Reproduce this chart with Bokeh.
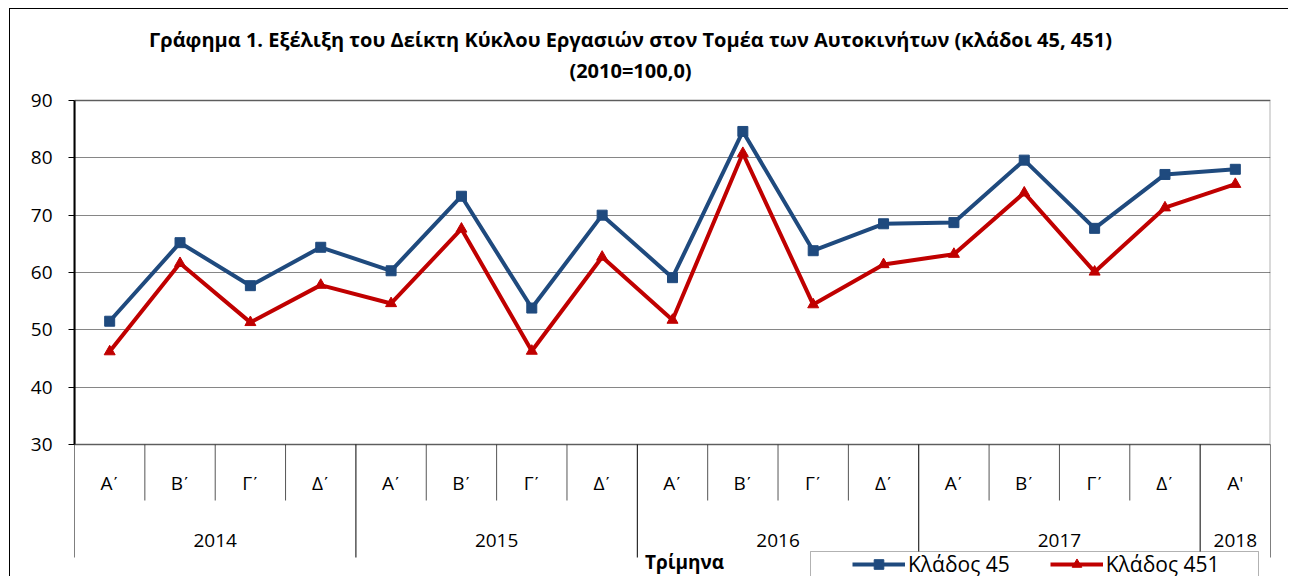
from bokeh.plotting import figure
from bokeh.models import Range1d, BoxAnnotation, Legend, LegendItem, FixedTicker, ColumnDataSource
from bokeh.core.properties import value
from bokeh.embed import file_html
from bokeh.resources import INLINE

# ---- data ----
quarters = ["Α\u0374", "Β\u0374", "Γ\u0374", "Δ\u0374", "Α\u0374", "Β\u0374", "Γ\u0374", "Δ\u0374",
            "Α\u0374", "Β\u0374", "Γ\u0374", "Δ\u0374", "Α\u0374", "Β\u0374", "Γ\u0374", "Δ\u0374", "Α'"]
years = ["2014", "2015", "2016", "2017", "2018"]
quarters_per_year = [4, 4, 4, 4, 1]
klados_45 = [51.5, 65.2, 57.7, 64.4, 60.3, 73.3, 53.8, 70.0, 59.1, 84.6, 63.8, 68.5,
             68.7, 79.6, 67.7, 77.1, 78.0]
klados_451 = [46.2, 61.6, 51.3, 57.8, 54.6, 67.6, 46.3, 62.7, 51.7, 80.8, 54.4, 61.4,
              63.2, 73.9, 60.1, 71.3, 75.4]
y_ticks = [30, 40, 50, 60, 70, 80, 90]
title_lines = ["Γράφημα 1. Εξέλιξη του Δείκτη Κύκλου Εργασιών στον Τομέα των Αυτοκινήτων (κλάδοι 45, 451)",
               "(2010=100,0)"]
x_title = "Τρίμηνα"
series_names = ["Κλάδος 45", "Κλάδος 451"]

FONT = "Open Sans"
BLUE = "#1F4A7E"
RED = "#C00000"

# ---- layout (page pixels) ----
PAGE_X0, PAGE_Y0 = 10, 9          # figure content origin on the page
FIG_W, FIG_H = 1279, 568
PLOT_L, PLOT_R, PLOT_T, PLOT_B = 74, 1270, 100, 444

n = len(quarters)
y_min, y_max = y_ticks[0], y_ticks[-1]
ppu = (PLOT_B - PLOT_T) / (y_max - y_min)
ppx = (PLOT_R - PLOT_L) / n


def dy(py):
    return y_max - (py - PLOT_T) / ppu


def dx(px):
    return (px - PLOT_L) / ppx


xs = [i + 0.5 for i in range(n)]

p = figure(width=FIG_W, height=FIG_H, output_backend="svg", toolbar_location=None,
           x_range=Range1d(0, n), y_range=Range1d(dy(PAGE_Y0 + FIG_H), dy(PAGE_Y0)),
           x_axis_location=None,
           min_border_left=PLOT_L - PAGE_X0, min_border_right=PAGE_X0 + FIG_W - PLOT_R,
           min_border_top=0, min_border_bottom=0)
p.styles = {"margin-left": "9px", "margin-top": "8px",
            "border-left": "1px solid #000", "border-top": "1px solid #000"}
p.outline_line_color = None
p.background_fill_color = "white"
p.border_fill_color = "white"

# y axis
p.yaxis.ticker = FixedTicker(ticks=y_ticks)
p.yaxis.bounds = (y_min, y_max)
p.yaxis.axis_line_color = "black"
p.yaxis.axis_line_width = 2
p.yaxis.major_tick_out = 6
p.yaxis.major_tick_in = 0
p.yaxis.major_tick_line_color = "black"
p.yaxis.minor_tick_line_color = None
p.yaxis.major_label_text_font = FONT
p.yaxis.major_label_text_font_size = "19px"
p.yaxis.major_label_text_color = "black"
p.yaxis.major_label_standoff = 16

p.ygrid.ticker = FixedTicker(ticks=y_ticks)
p.ygrid.bounds = (y_min, y_max)
p.ygrid.grid_line_color = "#868686"
p.ygrid.grid_line_width = 1
p.xgrid.visible = False

# plot box
p.add_layout(BoxAnnotation(left=0, right=n, bottom=y_min, top=y_max, fill_alpha=0,
                           line_color="black", line_width=2))

# titles
p.text(x=[dx(630)] * 2, y=[dy(39), dy(70)], text=title_lines, text_align="center",
       text_baseline="middle", text_font=value(FONT), text_font_size="20px",
       text_font_style="bold", text_color="black")

# category table under the plot
year_edges = [0]
for c in quarters_per_year:
    year_edges.append(year_edges[-1] + c)
q_edges = [i for i in range(1, n) if i not in year_edges]

p.segment(x0=q_edges, y0=[y_min] * len(q_edges), x1=q_edges, y1=[dy(500)] * len(q_edges),
          line_color="#555555", line_width=1)
p.segment(x0=year_edges, y0=[y_min] * len(year_edges), x1=year_edges,
          y1=[dy(557)] * len(year_edges), line_color="black", line_width=1)

p.text(x=xs, y=[dy(482.5)] * n, text=quarters, text_align="center", text_baseline="middle",
       text_font=value(FONT), text_font_size="19px", text_color="black")
year_centers = [(year_edges[i] + year_edges[i + 1]) / 2 for i in range(len(years))]
p.text(x=year_centers, y=[dy(540)] * len(years), text=years, text_align="center",
       text_baseline="middle", text_font=value(FONT), text_font_size="19px", text_color="black")

p.text(x=[dx(684)], y=[dy(561)], text=[x_title], text_align="center", text_baseline="middle",
       text_font=value(FONT), text_font_size="19px", text_font_style="bold", text_color="black")

# series
src = ColumnDataSource(dict(x=xs, a=klados_45, b=klados_451))
l1 = p.line("x", "a", source=src, line_color=BLUE, line_width=4)
m1 = p.scatter("x", "a", source=src, marker="square", size=10, fill_color=BLUE, line_color=BLUE)
l2 = p.line("x", "b", source=src, line_color=RED, line_width=4)
m2 = p.scatter("x", "b", source=src, marker="triangle", size=11, fill_color=RED, line_color=RED)

# legend box + legend
p.add_layout(BoxAnnotation(left=dx(810), right=dx(1258), top=dy(551), bottom=dy(620),
                           fill_color="white", fill_alpha=1, line_color="black", line_width=1))
legend = Legend(items=[LegendItem(label=series_names[0], renderers=[l1, m1]),
                       LegendItem(label=series_names[1], renderers=[l2, m2])],
                location=(852 - PLOT_L, -1), orientation="horizontal",
                label_text_font=FONT, label_text_font_size="21px", label_text_color="black",
                glyph_width=53, glyph_height=24, label_height=24, spacing=40, padding=0,
                margin=0, border_line_color=None, background_fill_alpha=0, label_standoff=3)
p.add_layout(legend)

open("out.html", "w").write(file_html(p, INLINE))
